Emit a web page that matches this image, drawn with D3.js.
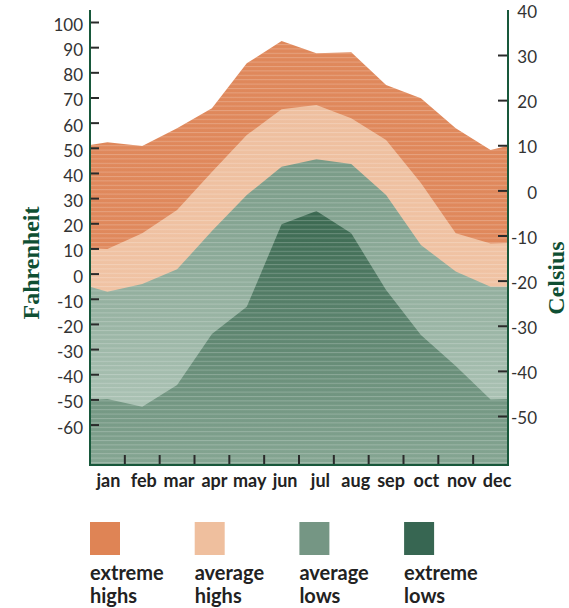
<!DOCTYPE html>
<html>
<head>
<meta charset="utf-8">
<script src="https://cdn.jsdelivr.net/npm/d3@7"></script>
<style>
  body { margin: 0; background: #fff; }
  svg { display: block; }
  .tick text { font-family: Lato, sans-serif; font-size: 17px; fill: #333; }
</style>
</head>
<body>
<div id="chart"></div>
<script>
// chart size
const width = 569;
const height = 608;
const plot = { left: 90, right: 508, top: 10, bottom: 465 };

// data (degrees Fahrenheit), one value per month
const months = ["jan", "feb", "mar", "apr", "may", "jun", "jul", "aug", "sep", "oct", "nov", "dec"];
const extremeHighs = [52.2, 50.7, 57.8, 65.7, 83.6, 92.4, 87.6, 88.0, 75.0, 69.7, 57.8, 49.1];
const averageHighs = [9.8, 16.0, 25.3, 40.4, 55.1, 65.3, 67.0, 61.7, 53.1, 36.0, 16.0, 12.0];
const averageLows = [-7.2, -4.1, 1.7, 16.9, 31.2, 42.5, 45.4, 43.6, 31.2, 11.4, 0.8, -5.2];
const extremeLows = [-49.8, -52.9, -44.3, -24.0, -13.2, 19.6, 24.9, 16.0, -6.5, -24.4, -36.7, -50.0];
// values where each band meets the left and right axis
const startValues = [51.1, 10.1, -5.2, -50.2];
const endValues = [50.8, 12.2, -5.2, -49.8];

const fahrenheitTicks = [100, 90, 80, 70, 60, 50, 40, 30, 20, 10, 0, -10, -20, -30, -40, -50, -60];
const celsiusTicks = [40, 30, 20, 10, 0, -10, -20, -30, -40, -50];
const seriesNames = ["extreme highs", "average highs", "average lows", "extreme lows"];

const svg = d3.select("#chart").append("svg")
  .attr("width", width)
  .attr("height", height);

// scales
const x = d3.scaleBand().domain(months).range([plot.left, plot.right]);
const yF = d3.scaleLinear().domain([0, 100]).range([273.6, 22]);
const yC = d3.scaleLinear().domain([-50, 30]).range([416, 55]);

const defs = svg.append("defs");

defs.append("clipPath").attr("id", "plotClip")
  .append("rect")
  .attr("x", plot.left).attr("y", 0)
  .attr("width", plot.right - plot.left).attr("height", plot.bottom);

// stripes
const pattern = defs.append("pattern")
  .attr("id", "stripes")
  .attr("patternUnits", "userSpaceOnUse")
  .attr("width", 10).attr("height", 4.4);
pattern.append("rect")
  .attr("width", 10).attr("height", 1)
  .attr("fill", "#fff").attr("opacity", 0.22);

function gradient(id, y1, y2, c1, c2) {
  const g = defs.append("linearGradient").attr("id", id)
    .attr("gradientUnits", "userSpaceOnUse")
    .attr("x1", 0).attr("x2", 0).attr("y1", y1).attr("y2", y2);
  g.append("stop").attr("offset", "0%").attr("stop-color", c1);
  g.append("stop").attr("offset", "100%").attr("stop-color", c2);
}
gradient("gHigh", 40, 465, "#df885b", "#e0895d");
gradient("gAvgHigh", 100, 300, "#eebf9f", "#f0c3a4");
gradient("gAvgLow", 158, 410, "#789a86", "#acc3b5");
gradient("gLow", 211, 465, "#3a6850", "#86a693");

const fills = ["url(#gHigh)", "url(#gAvgHigh)", "url(#gAvgLow)", "url(#gLow)"];
const legendColors = ["#df8455", "#efbf9e", "#759684", "#376652"];
const series = [extremeHighs, averageHighs, averageLows, extremeLows];

// build points: left edge, month centres, right edge
function points(values, i) {
  const pts = [[plot.left, startValues[i]]];
  values.forEach((v, j) => pts.push([x(months[j]) + x.bandwidth() / 2, v]));
  pts.push([plot.right, endValues[i]]);
  return pts;
}

const area = d3.area()
  .x(d => d[0])
  .y0(plot.bottom)
  .y1(d => yF(d[1]));

const areas = svg.append("g").attr("clip-path", "url(#plotClip)");
series.forEach((values, i) => {
  areas.append("path")
    .attr("d", area(points(values, i)))
    .attr("fill", fills[i]);
});
// stripe overlay across the whole filled shape
areas.append("path")
  .attr("d", area(points(extremeHighs, 0)))
  .attr("fill", "url(#stripes)");

// left axis (Fahrenheit)
const leftAxis = svg.append("g")
  .attr("transform", `translate(${plot.left},0)`)
  .call(d3.axisLeft(yF).tickValues(fahrenheitTicks).tickSize(-9).tickPadding(7).tickFormat(d => String(d)));
leftAxis.select(".domain").remove();
leftAxis.selectAll(".tick line").attr("stroke", "#2a2a2a").attr("stroke-width", 2);
leftAxis.selectAll(".tick text").attr("dy", "0.5em");

// right axis (Celsius)
const rightAxis = svg.append("g")
  .attr("transform", `translate(${plot.right},0)`)
  .call(d3.axisRight(yC).tickValues(celsiusTicks).tickSize(-10).tickFormat(d => String(d)));
rightAxis.select(".domain").remove();
rightAxis.selectAll(".tick line").attr("stroke", "#2a2a2a").attr("stroke-width", 2)
  .attr("display", d => d === 40 ? "none" : null);
rightAxis.selectAll(".tick text")
  .attr("x", 29).attr("text-anchor", "end").attr("dy", "0.45em");

// month ticks on the bottom, at band boundaries
svg.append("g").selectAll("line")
  .data(months.slice(1))
  .join("line")
  .attr("x1", d => x(d)).attr("x2", d => x(d))
  .attr("y1", plot.bottom - 10).attr("y2", plot.bottom)
  .attr("stroke", "#2a2a2a").attr("stroke-width", 2);

svg.append("g").selectAll("text")
  .data(months)
  .join("text")
  .attr("x", (d, i) => x(d) + x.bandwidth() / 2 + 1 + i * 0.5)
  .attr("y", 487)
  .attr("text-anchor", "middle")
  .style("font-family", "Lato, sans-serif")
  .style("font-weight", "bold")
  .style("font-size", "18px")
  .style("fill", "#222")
  .text(d => d);

// axis frame lines
const axisColor = "#18583b";
svg.append("line").attr("x1", plot.left).attr("x2", plot.left)
  .attr("y1", plot.top).attr("y2", plot.bottom + 1)
  .attr("stroke", axisColor).attr("stroke-width", 2);
svg.append("line").attr("x1", plot.right).attr("x2", plot.right)
  .attr("y1", plot.top).attr("y2", plot.bottom + 1)
  .attr("stroke", axisColor).attr("stroke-width", 2);
svg.append("line").attr("x1", plot.left - 1).attr("x2", plot.right + 1)
  .attr("y1", plot.bottom).attr("y2", plot.bottom)
  .attr("stroke", axisColor).attr("stroke-width", 2);

// axis titles
svg.append("text")
  .attr("transform", "translate(39,263) rotate(-90)")
  .attr("text-anchor", "middle")
  .style("font-family", "'Liberation Serif', serif")
  .style("font-weight", "bold")
  .style("font-size", "24px")
  .style("fill", "#0f4f33")
  .text("Fahrenheit");

svg.append("text")
  .attr("transform", "translate(564,278) rotate(-90)")
  .attr("text-anchor", "middle")
  .style("font-family", "'Liberation Serif', serif")
  .style("font-weight", "bold")
  .style("font-size", "24px")
  .style("fill", "#0f4f33")
  .text("Celsius");

// legend
const legend = svg.append("g").selectAll("g")
  .data(seriesNames)
  .join("g")
  .attr("transform", (d, i) => `translate(${90 + i * 104.7},522)`);

legend.append("rect")
  .attr("width", 30).attr("height", 33)
  .attr("fill", (d, i) => legendColors[i]);

legend.each(function(d) {
  const words = d.split(" ");
  const t = d3.select(this).append("text")
    .style("font-family", "Lato, sans-serif")
    .style("font-weight", "bold")
    .style("font-size", "20px")
    .style("fill", "#222");
  words.forEach((w, k) => {
    t.append("tspan").attr("x", 0).attr("y", 58 + k * 23).text(w);
  });
});
</script>
</body>
</html>
